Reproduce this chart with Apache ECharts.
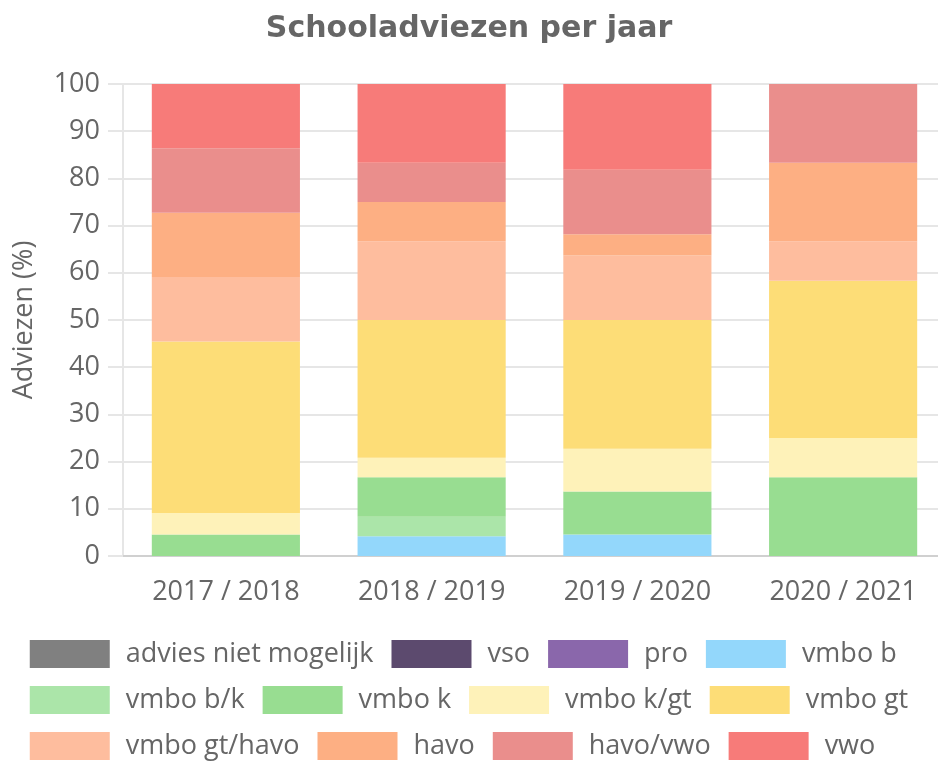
<!DOCTYPE html>
<html>
<head>
<meta charset="utf-8">
<script src="https://cdn.jsdelivr.net/npm/echarts@6/dist/echarts.min.js"></script>
<style>
  html, body { margin: 0; padding: 0; background: #fff; }
  #chart { width: 938px; height: 763px; }
</style>
</head>
<body>
<div id="chart"></div>
<script>
// schooljaren
const years = ['2017 / 2018', '2018 / 2019', '2019 / 2020', '2020 / 2021'];
const yTicks = [0, 10, 20, 30, 40, 50, 60, 70, 80, 90, 100];

// percentages per advies
const adviesNietMogelijk = [0, 0, 0, 0];
const vso = [0, 0, 0, 0];
const pro = [0, 0, 0, 0];
const vmboB = [0, 4.17, 4.55, 0];
const vmboBK = [0, 4.17, 0, 0];
const vmboK = [4.55, 8.33, 9.09, 16.67];
const vmboKGt = [4.55, 4.17, 9.09, 8.33];
const vmboGt = [36.36, 29.17, 27.27, 33.33];
const vmboGtHavo = [13.64, 16.67, 13.64, 8.33];
const havo = [13.64, 8.33, 4.55, 16.67];
const havoVwo = [13.64, 8.33, 13.64, 16.67];
const vwo = [13.64, 16.67, 18.18, 0];

const names = ['advies niet mogelijk', 'vso', 'pro', 'vmbo b', 'vmbo b/k', 'vmbo k',
  'vmbo k/gt', 'vmbo gt', 'vmbo gt/havo', 'havo', 'havo/vwo', 'vwo'];
const values = [adviesNietMogelijk, vso, pro, vmboB, vmboBK, vmboK,
  vmboKGt, vmboGt, vmboGtHavo, havo, havoVwo, vwo];
const colors = ['#808080', '#5c4a6e', '#8a67ab', '#93d7fb', '#abe5a9', '#98dd91',
  '#fef2b9', '#fddd77', '#febd9e', '#fdaf83', '#ea8e8c', '#f77b79'];

const labelFont = '"Open Sans", sans-serif';

const myChart = echarts.init(document.getElementById('chart'));
myChart.setOption({
  animation: false,
  color: colors,
  title: {
    text: 'Schooladviezen per jaar',
    left: 'center',
    top: 9,
    textStyle: { fontFamily: '"DejaVu Sans", sans-serif', fontSize: 30, fontWeight: 'bold', color: '#666' }
  },
  legend: {
    data: names,
    left: 'center',
    top: 635,
    width: 910,
    itemWidth: 80,
    itemHeight: 28,
    itemGap: 18,
    textStyle: { fontFamily: labelFont, fontSize: 27, color: '#666', padding: [0, 0, 0, 11] },
    icon: 'rect'
  },
  grid: { left: 123, top: 84, width: 823, height: 472, outerBoundsMode: 'none' },
  xAxis: {
    type: 'category',
    data: years,
    axisLine: { lineStyle: { color: '#d0d0d0', width: 2 } },
    axisTick: { show: false },
    axisLabel: { fontFamily: labelFont, fontSize: 27, color: '#666', margin: 23 }
  },
  yAxis: {
    type: 'value',
    min: yTicks[0],
    max: yTicks[yTicks.length - 1],
    interval: 10,
    name: 'Adviezen (%)',
    nameLocation: 'middle',
    nameGap: 85,
    nameTextStyle: { fontFamily: labelFont, fontSize: 27, color: '#666' },
    axisLine: { show: true, lineStyle: { color: '#e6e6e6', width: 2 } },
    axisTick: { show: true, length: 15, lineStyle: { color: '#e6e6e6', width: 2 } },
    splitLine: { lineStyle: { color: '#e6e6e6', width: 2 } },
    axisLabel: { fontFamily: labelFont, fontSize: 27, color: '#666', margin: 23 }
  },
  series: names.map((n, i) => ({
    name: n,
    type: 'bar',
    stack: 'advies',
    barWidth: '72%',
    data: values[i]
  }))
});
</script>
</body>
</html>
